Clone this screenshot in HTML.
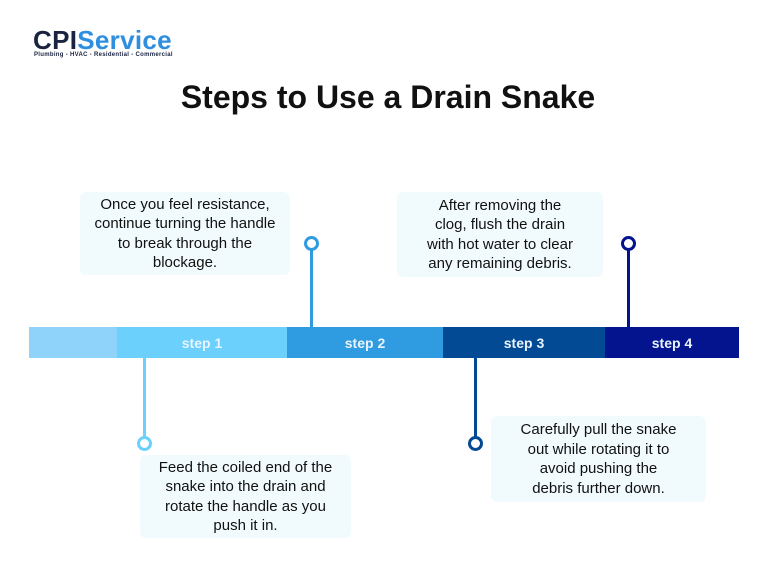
<!DOCTYPE html>
<html><head><style>
body{margin:0;width:768px;height:576px;background:#fff;position:relative;overflow:hidden;font-family:"Liberation Sans",sans-serif}
.a{position:absolute}
.box{position:absolute;background:#f1fbfd;border-radius:6px;color:#111;font-size:15px;line-height:19.5px;text-align:center;display:flex;align-items:center;justify-content:center}
.seg{position:absolute;top:327px;height:31px;color:#e8f4ff;font-weight:bold;font-size:14px;display:flex;align-items:center;justify-content:center}
.ln{position:absolute;width:3px}
.c{position:absolute;width:9px;height:9px;border-radius:50%;border:3px solid;background:#fff}
</style></head><body>
<div class="a" style="left:33px;top:25px;font-size:26px;font-weight:bold;letter-spacing:0.3px"><span style="color:#1a2340">CPI</span><span style="color:#2e8fe0">Service</span></div>
<div class="a" style="left:34px;top:52px;font-size:6px;color:#1a2340;font-weight:bold;letter-spacing:0.3px">Plumbing - HVAC - Residential - Commercial</div>
<div class="a" style="left:0;width:776px;top:79px;text-align:center;font-size:32px;font-weight:bold;color:#111">Steps to Use a Drain Snake</div>

<div class="seg" style="left:29px;width:88px;background:#8fd3fb"></div>
<div class="seg" style="left:117px;width:170px;background:#6bd0fb">step 1</div>
<div class="seg" style="left:287px;width:156px;background:#2f9be0">step 2</div>
<div class="seg" style="left:443px;width:162px;background:#034a94">step 3</div>
<div class="seg" style="left:605px;width:134px;background:#03148e">step 4</div>

<div class="ln" style="left:310px;top:249px;height:78px;background:#2f9be0"></div>
<div class="c" style="left:304px;top:236px;border-color:#2f9be0"></div>
<div class="ln" style="left:627px;top:249px;height:78px;background:#03148e"></div>
<div class="c" style="left:621px;top:236px;border-color:#03148e"></div>
<div class="ln" style="left:143px;top:358px;height:79px;background:#6bd0fb"></div>
<div class="c" style="left:137px;top:436px;border-color:#6bd0fb"></div>
<div class="ln" style="left:474px;top:358px;height:79px;background:#034a94"></div>
<div class="c" style="left:468px;top:436px;border-color:#034a94"></div>

<div class="box" style="left:80px;top:192px;width:210px;height:83px">Once you feel resistance,<br>continue turning the handle<br>to break through the<br>blockage.</div>
<div class="box" style="left:397px;top:192px;width:206px;height:85px">After removing the<br>clog, flush the drain<br>with hot water to clear<br>any remaining debris.</div>
<div class="box" style="left:140px;top:455px;width:211px;height:83px">Feed the coiled end of the<br>snake into the drain and<br>rotate the handle as you<br>push it in.</div>
<div class="box" style="left:491px;top:416px;width:215px;height:86px">Carefully pull the snake<br>out while rotating it to<br>avoid pushing the<br>debris further down.</div>
</body></html>
